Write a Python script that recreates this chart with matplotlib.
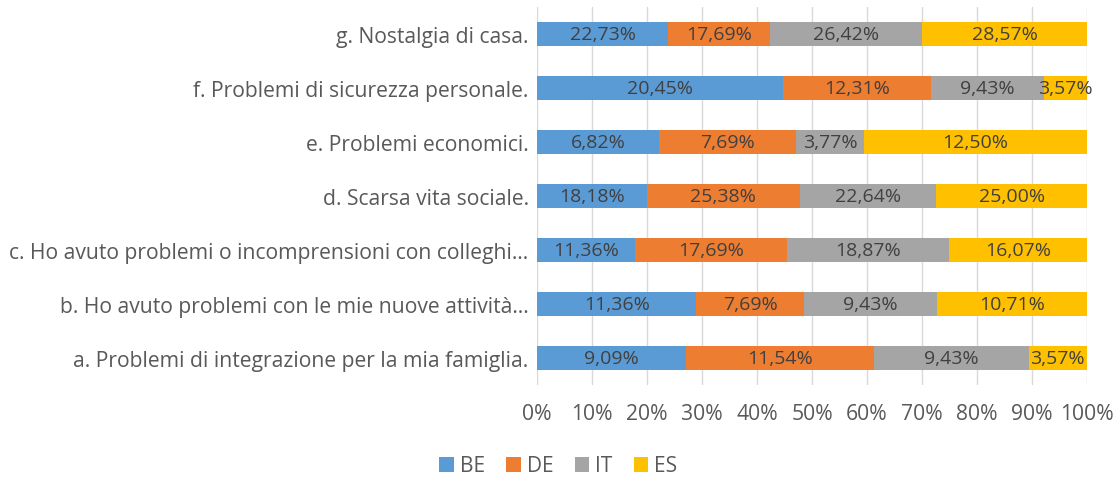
import numpy as np
import matplotlib.pyplot as plt
from matplotlib.ticker import PercentFormatter

categories = [
    "a. Problemi di integrazione per la mia famiglia.",
    "b. Ho avuto problemi con le mie nuove attività…",
    "c. Ho avuto problemi o incomprensioni con colleghi…",
    "d. Scarsa vita sociale.",
    "e. Problemi economici.",
    "f. Problemi di sicurezza personale.",
    "g. Nostalgia di casa.",
]
series = ["BE", "DE", "IT", "ES"]
BE = [9.09, 11.36, 11.36, 18.18, 6.82, 20.45, 22.73]
DE = [11.54, 7.69, 17.69, 25.38, 7.69, 12.31, 17.69]
IT = [9.43, 9.43, 18.87, 22.64, 3.77, 9.43, 26.42]
ES = [3.57, 10.71, 16.07, 25.00, 12.50, 3.57, 28.57]
colors = ["#5B9BD5", "#ED7D31", "#A5A5A5", "#FFC000"]

plt.rcParams["font.family"] = ["Open Sans", "DejaVu Sans"]

vals = np.array([BE, DE, IT, ES])
shares = vals / vals.sum(axis=0)

fig = plt.figure(figsize=(11.17, 4.81), dpi=100)
ax = fig.add_axes([537 / 1117, 1 - 386 / 481, 550 / 1117, 378 / 481])

y = np.arange(len(categories))
left = np.zeros(len(categories))
for i, name in enumerate(series):
    ax.barh(y, shares[i], left=left, height=0.44, color=colors[i], label=name, zorder=2)
    for j in range(len(categories)):
        ax.text(left[j] + shares[i][j] / 2, y[j], f"{vals[i][j]:.2f}%".replace(".", ","),
                ha="center", va="center", fontsize=14, color="#404040", zorder=3)
    left += shares[i]

ax.set_xlim(0, 1)
ax.set_ylim(-0.5, len(categories) - 0.5)
ax.set_xticks(np.linspace(0, 1, 11))
ax.xaxis.set_major_formatter(PercentFormatter(1.0, decimals=0))
ax.set_yticks(y)
ax.set_yticklabels(categories)
ax.tick_params(axis="both", length=0, labelsize=15.2, colors="#595959")
ax.tick_params(axis="x", pad=13)
ax.tick_params(axis="y", pad=6)
ax.grid(axis="x", color="#D9D9D9", linewidth=1, zorder=0)
for s in ax.spines.values():
    s.set_visible(False)

fig.legend(loc="center", bbox_to_anchor=(0.5, 1 - 467 / 481), ncol=4, frameon=False,
           fontsize=15, handlelength=0.7, handleheight=0.7, handletextpad=0.3,
           columnspacing=1.0, labelcolor="#595959")

fig.savefig("out.png", dpi=100)
